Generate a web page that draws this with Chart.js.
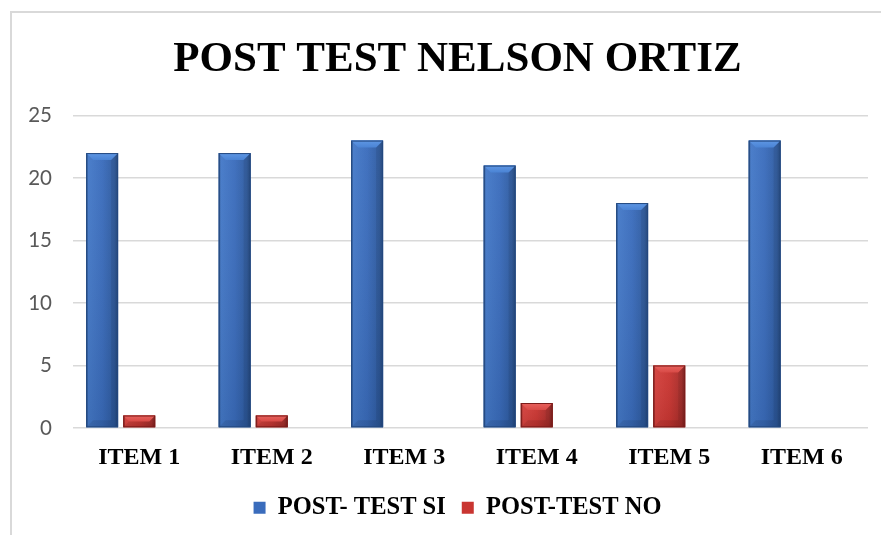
<!DOCTYPE html>
<html>
<head>
<meta charset="utf-8">
<title>POST TEST NELSON ORTIZ</title>
<script src="https://cdn.jsdelivr.net/npm/chart.js@4/dist/chart.umd.min.js"></script>
<style>
  html, body { margin:0; padding:0; background:#fff; overflow:hidden; }
  #chart { display:block; }
</style>
</head>
<body>
<canvas id="chart" width="895" height="535"></canvas>
<script>
// Data
const categories = ['ITEM 1','ITEM 2','ITEM 3','ITEM 4','ITEM 5','ITEM 6'];
const postTestSi = [22, 22, 23, 21, 18, 23];
const postTestNo = [1, 1, 0, 2, 5, 0];
const emptySeries = [null, null, null, null, null, null]; // excel reserves a third slot
const seriesNames = ['POST- TEST SI', 'POST-TEST NO'];

// Shades for the bevelled bars
const shades = {
  blue: { edge:'#23487f', light:'#4479c8', mid:'#3a6cbc', dark:'#2e5ba0', top:'#5f97e4', topEnd:'#4a83d4' },
  red:  { edge:'#7c1d1b', light:'#d3403c', mid:'#c93531', dark:'#a82c29', top:'#e8635f', topEnd:'#d84a46' }
};

// border round the chart, like the excel chart frame
const frame = {
  id:'frame',
  beforeDraw(chart){
    const ctx = chart.ctx;
    ctx.save();
    ctx.fillStyle = '#fff';
    ctx.fillRect(0,0,chart.width,chart.height);
    ctx.strokeStyle = '#d9d9d9'; ctx.lineWidth = 2;
    ctx.strokeRect(11, 12, chart.width + 40, chart.height + 40);
    ctx.restore();
  }
};

// draws a bevel over every bar the library placed
const bevel = {
  id:'bevel',
  afterDatasetDraw(chart, args){
    const ds = chart.data.datasets[args.index];
    const s = shades[ds.shade];
    if(!s) return;
    const ctx = chart.ctx;
    ctx.save();
    args.meta.data.forEach((bar,i)=>{
      if(!ds.data[i]) return;
      const p = bar.getProps(['x','y','base','width'], true);
      const l = p.x - p.width/2, r = p.x + p.width/2, t = p.y, b = p.base;
      const w = r - l, h = b - t;
      const d = Math.min(7, h/2, w/2);
      // body
      const g = ctx.createLinearGradient(l,0,r,0);
      g.addColorStop(0, s.edge); g.addColorStop(0.07, s.light); g.addColorStop(0.5, s.mid);
      g.addColorStop(0.88, s.dark); g.addColorStop(1, s.edge);
      ctx.fillStyle = g; ctx.fillRect(l,t,w,h);
      const gv = ctx.createLinearGradient(0,t,0,b);
      gv.addColorStop(0,'rgba(255,255,255,0.04)'); gv.addColorStop(1,'rgba(0,0,0,0.08)');
      ctx.fillStyle = gv; ctx.fillRect(l,t,w,h);
      // top bevel
      const gt = ctx.createLinearGradient(0,t,0,t+d);
      gt.addColorStop(0, s.top); gt.addColorStop(1, s.topEnd);
      ctx.fillStyle = gt;
      ctx.beginPath(); ctx.moveTo(l,t); ctx.lineTo(r,t); ctx.lineTo(r-d,t+d); ctx.lineTo(l+d,t+d); ctx.closePath(); ctx.fill();
      // bottom bevel
      ctx.fillStyle = 'rgba(0,0,0,0.08)';
      ctx.beginPath(); ctx.moveTo(l,b); ctx.lineTo(r,b); ctx.lineTo(r-d,b-d); ctx.lineTo(l+d,b-d); ctx.closePath(); ctx.fill();
      // right side a bit darker
      ctx.fillStyle = 'rgba(0,0,0,0.07)';
      ctx.beginPath(); ctx.moveTo(r,t); ctx.lineTo(r,b); ctx.lineTo(r-d,b-d); ctx.lineTo(r-d,t+d); ctx.closePath(); ctx.fill();
      ctx.strokeStyle = s.edge; ctx.lineWidth = 1;
      ctx.strokeRect(l+0.5,t+0.5,w-1,h-1);
    });
    ctx.restore();
  }
};

const serif = "'Liberation Serif', 'Times New Roman', serif";

new Chart(document.getElementById('chart'), {
  type:'bar',
  data:{
    labels: categories,
    datasets:[
      { label: seriesNames[0], data: postTestSi, backgroundColor:'#3a6cbc', borderColor:'#23487f', borderWidth:0, shade:'blue' },
      { label: seriesNames[1], data: postTestNo, backgroundColor:'#c93531', borderColor:'#7c1d1b', borderWidth:0, shade:'red' },
      { label: '', data: emptySeries, backgroundColor:'rgba(0,0,0,0)' }
    ]
  },
  options:{
    responsive:false,
    animation:false,
    categoryPercentage:0.84,
    barPercentage:0.86,
    layout:{ padding:{ left:20, right:0, top:0, bottom:5 } },
    plugins:{
      title:{
        display:true,
        text:'POST TEST NELSON ORTIZ',
        color:'#000',
        font:{ family: serif, size:43, weight:'bold' },
        padding:{ top:34, bottom:30 }
      },
      legend:{
        position:'bottom',
        labels:{
          filter: item => item.datasetIndex < 2,
          boxWidth:12, boxHeight:12,
          padding:16,
          color:'#000',
          font:{ family: serif, size:24.5, weight:'bold' }
        }
      },
      tooltip:{ enabled:false }
    },
    scales:{
      x:{
        grid:{ display:false },
        border:{ display:false },
        ticks:{ color:'#000', padding:7, font:{ family: serif, size:24, weight:'bold' } },
        afterFit(scale){ scale.height = 51.5; }
      },
      y:{
        min:0, max:25,
        grid:{ color:'#d9d9d9', lineWidth:1.5, drawTicks:false },
        border:{ display:false },
        ticks:{ stepSize:5, padding:21, color:'#595959', font:{ family:"Lato, 'Liberation Sans', sans-serif", size:20.5 } },
        afterFit(scale){ scale.width = 53; }
      },
      // empty right box so the title and legend sit centred like the original
      yRight:{
        position:'right',
        display:true,
        grid:{ display:false },
        border:{ display:false },
        ticks:{ display:false },
        afterFit(scale){ scale.width = 27; }
      }
    }
  },
  plugins:[frame, bevel]
});
</script>
</body>
</html>
